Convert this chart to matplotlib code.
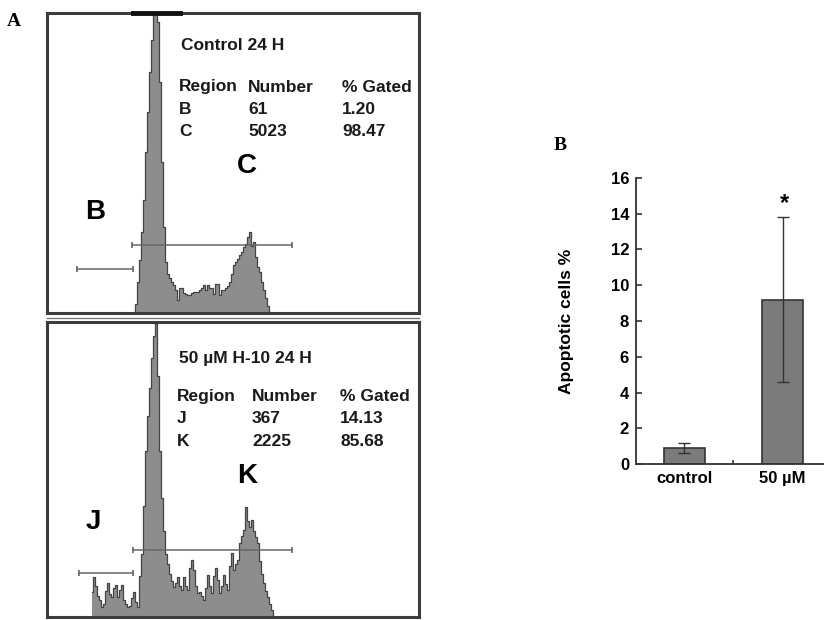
import numpy as np
import matplotlib
matplotlib.use('Agg')
import matplotlib.pyplot as plt
from matplotlib.lines import Line2D

plt.rcParams['font.family'] = ['Liberation Sans', 'DejaVu Sans']

# -- histogram data (channel, count) --------------
# panel 1 : control 24 H
hist1_start = 86
hist1_counts = [0, 8, 30, 52, 80, 112, 160, 200, 240, 272, 298, 320, 290, 230, 150, 85,
                50, 38, 34, 30, 27, 22, 12, 24, 24, 19, 18, 17, 17, 19, 20, 20,
                20, 22, 24, 27, 22, 27, 24, 24, 18, 28, 28, 17, 22, 22, 24, 26,
                30, 38, 47, 50, 53, 57, 60, 65, 68, 75, 80, 66, 70, 55, 45, 40,
                30, 22, 14, 6, 0]
# panel 2 : 50 uM H-10 24 H
hist2_start = 44
hist2_counts = [24, 39, 30, 20, 16, 9, 12, 25, 33, 22, 19, 28, 31, 19, 26, 31,
                16, 12, 9, 10, 18, 24, 14, 9, 40, 62, 110, 165, 200, 228, 258, 280,
                292, 240, 165, 118, 85, 62, 52, 42, 35, 29, 33, 39, 30, 26, 39, 30,
                26, 48, 56, 46, 30, 23, 24, 20, 16, 28, 41, 30, 23, 40, 48, 36,
                23, 30, 41, 32, 26, 50, 63, 46, 52, 56, 73, 80, 86, 109, 95, 89,
                96, 85, 79, 73, 55, 42, 33, 25, 19, 12, 6, 0]

# gates (start, end, level)
gate_B = (29, 85, 43)
gate_C = (84, 244, 67)
gate_J = (31, 85, 43)
gate_K = (85, 244, 66)

# stats tables
title1 = 'Control 24 H'
title2 = '50 µM H-10 24 H'
table_head = ['Region', 'Number', '% Gated']
table1 = [['B', '61', '1.20'], ['C', '5023', '98.47']]
table2 = [['J', '367', '14.13'], ['K', '2225', '85.68']]

# -- bar chart data --------------
groups = ['control', '50 µM']
apoptotic = [0.9, 9.2]
apoptotic_err = [0.27, 4.6]

fill_c = '#8d8d8d'
edge_c = '#444444'
box_c = '#3c3c3c'

fig = plt.figure(figsize=(8.24, 6.2), dpi=100)

ax1 = fig.add_axes([47 / 824, 1 - 313 / 620, 372 / 824, 300 / 620])
ax2 = fig.add_axes([47 / 824, 1 - 617 / 620, 372 / 824, 295 / 620])


def draw_hist(ax, start, counts, top):
    x = np.arange(start, start + 2 * len(counts), 2)
    y = np.array(counts)
    ax.fill_between(x, y, step='mid', color=fill_c, lw=0)
    ax.step(x, y, where='mid', color=edge_c, lw=0.9)
    ax.set_xlim(-1, 371)
    ax.set_ylim(-1, top)
    ax.set_xticks([])
    ax.set_yticks([])
    for s in ax.spines.values():
        s.set_color(box_c)
        s.set_linewidth(2.2)
        s.set_zorder(5)


def draw_gate(ax, gate):
    x0, x1, h = gate
    ax.plot([x0, x1], [h, h], color='#666666', lw=1.1, marker='|',
            markersize=5, markeredgewidth=1.2)


def draw_table(ax, title, rows, x_cols, y_title, y_rows):
    ax.text(x_cols[0] + 2, y_title, title, fontsize=12.5, fontweight='bold',
            va='center', ha='left', color='#1a1a1a')
    for j, h in enumerate(table_head):
        ax.text(x_cols[j], y_rows[0], h, fontsize=12.5, fontweight='bold',
                va='center', ha='left', color='#1a1a1a')
    for i, r in enumerate(rows):
        for j, v in enumerate(r):
            ax.text(x_cols[j], y_rows[i + 1], v, fontsize=12.5, fontweight='bold',
                    va='center', ha='left', color='#1a1a1a')


draw_hist(ax1, hist1_start, hist1_counts, 299)
draw_gate(ax1, gate_B)
draw_gate(ax1, gate_C)
# clipped peak marker on the top border
ax1.plot([85, 132], [299, 299], color='#111111', lw=3.5, clip_on=False, zorder=6)
draw_table(ax1, title1, table1, [131, 200, 294], 266, [225, 203, 181])
ax1.text(47, 100, 'B', fontsize=20, fontweight='bold', ha='center', va='center')
ax1.text(199, 146, 'C', fontsize=20, fontweight='bold', ha='center', va='center')

draw_hist(ax2, hist2_start, hist2_counts, 294)
draw_gate(ax2, gate_J)
draw_gate(ax2, gate_K)
draw_table(ax2, title2, table2, [129, 204, 292], 257, [219, 197, 174])
ax2.text(45, 94, 'J', fontsize=20, fontweight='bold', ha='center', va='center')
ax2.text(199, 140, 'K', fontsize=20, fontweight='bold', ha='center', va='center')

# thin separator between the two boxes
fig.add_artist(Line2D([47 / 824, 419 / 824], [1 - 318 / 620, 1 - 318 / 620],
                      color='#777777', lw=1.0))

# -- bar chart -------------
ax3 = fig.add_axes([636 / 824, 1 - 464.3 / 620, 188 / 824, 286.6 / 620])
pos = np.arange(len(groups))
ax3.bar(pos, apoptotic, width=0.42, color='#7b7b7b', edgecolor='#333333', lw=1.2,
        yerr=apoptotic_err, capsize=4,
        error_kw=dict(ecolor='#333333', elinewidth=1.0, capthick=1.0))
ax3.text(pos[1] + 0.02, 14.55, '*', fontsize=17, fontweight='bold', ha='center', va='center')
ax3.set_xlim(-0.49, 1.42)
ax3.set_ylim(0, 16)
ax3.set_yticks(range(0, 17, 2))
ax3.set_xticks(pos)
ax3.set_xticklabels(groups, fontsize=12, fontweight='bold')
ax3.set_xticks([0.5], minor=True)
for lab in ax3.get_yticklabels():
    lab.set_fontsize(12)
    lab.set_fontweight('bold')
ax3.tick_params(axis='y', direction='in', length=4, width=1.2, color='#333333', pad=5)
ax3.tick_params(axis='x', which='major', length=0, pad=5)
ax3.tick_params(axis='x', which='minor', direction='in', length=3, width=1.2, color='#333333')
ax3.spines['top'].set_visible(False)
ax3.spines['right'].set_visible(False)
for s in ['left', 'bottom']:
    ax3.spines[s].set_linewidth(1.3)
    ax3.spines[s].set_color('#333333')
ax3.set_ylabel('Apoptotic cells %', fontsize=12.5, fontweight='bold')
ax3.yaxis.set_label_coords(-0.33, 0.5)

fig.text(14 / 824, 1 - 22 / 620, 'A', family='Liberation Serif', fontsize=14,
         fontweight='bold', ha='center', va='center')
fig.text(560 / 824, 1 - 145 / 620, 'B', family='Liberation Serif', fontsize=14,
         fontweight='bold', ha='center', va='center')

plt.savefig('out.png', dpi=100)
